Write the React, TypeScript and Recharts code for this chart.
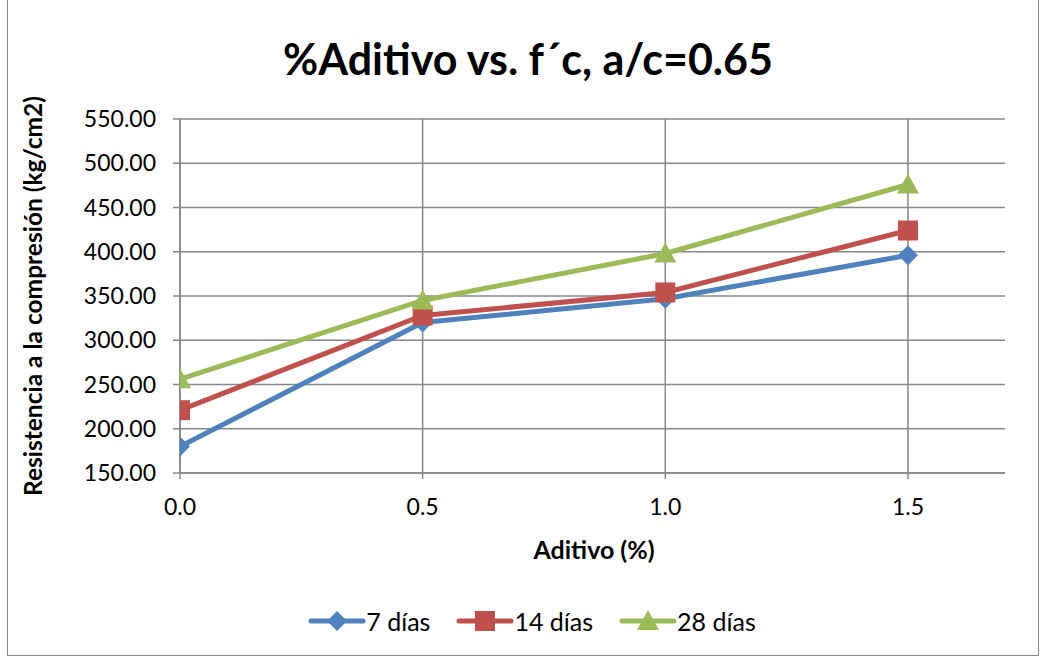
import React from 'react';
import { LineChart, Line, XAxis, YAxis, CartesianGrid, Label } from 'recharts';

const aditivo = [0.0, 0.5, 1.0, 1.5];
const dias7 = [180, 320, 347, 396];
const dias14 = [221, 328, 354, 424];
const dias28 = [256, 345, 398, 476];
const yTicks = [150, 200, 250, 300, 350, 400, 450, 500, 550];
const xTicks = [0, 0.5, 1.0, 1.5];

const data = aditivo.map((x, i) => ({ x, d7: dias7[i], d14: dias14[i], d28: dias28[i] }));

const FONT = 'Lato, "Open Sans", sans-serif';
const BLUE = '#4F81BD';
const RED = '#C0504D';
const GREEN = '#9BBB59';

const Diamond = (props: any) => {
  const { cx, cy } = props;
  if (cx == null || cy == null) return null;
  const r = 10;
  return <path d={`M${cx},${cy - r}L${cx + r},${cy}L${cx},${cy + r}L${cx - r},${cy}Z`} fill={BLUE} />;
};
const Square = (props: any) => {
  const { cx, cy } = props;
  if (cx == null || cy == null) return null;
  return <rect x={cx - 10} y={cy - 10} width={20} height={20} fill={RED} />;
};
const Triangle = (props: any) => {
  const { cx, cy } = props;
  if (cx == null || cy == null) return null;
  return <path d={`M${cx},${cy - 11}L${cx + 11},${cy + 9}L${cx - 11},${cy + 9}Z`} fill={GREEN} />;
};

const legendItems = [
  { name: '7 días', color: BLUE, shape: 'diamond' },
  { name: '14 días', color: RED, shape: 'square' },
  { name: '28 días', color: GREEN, shape: 'triangle' }
];

// legend drawn by hand, Excel style
const ChartLegend = () => (
  <div
    style={{
      position: 'absolute',
      left: 0,
      top: 608,
      width: 1064,
      display: 'flex',
      justifyContent: 'center',
      gap: 26,
      fontFamily: FONT,
      fontSize: 25,
      lineHeight: '26px',
      color: '#000'
    }}
  >
    {legendItems.map(item => (
      <div key={item.name} style={{ display: 'flex', alignItems: 'center' }}>
        <svg width={58} height={24}>
          <line x1={3} y1={12} x2={55} y2={12} stroke={item.color} strokeWidth={5} strokeLinecap="round" />
          {item.shape === 'diamond' && <path d="M29,2L39,12L29,22L19,12Z" fill={item.color} />}
          {item.shape === 'square' && <rect x={19} y={2} width={20} height={20} fill={item.color} />}
          {item.shape === 'triangle' && <path d="M29,1L40,21L18,21Z" fill={item.color} />}
        </svg>
        <span>{item.name}</span>
      </div>
    ))}
  </div>
);

export default function App() {
  return (
    <div style={{ position: 'absolute', left: 0, top: 0, width: 1044, height: 658, background: '#fff' }}>
      <div style={{ position: 'absolute', left: 7, top: -1, width: 1032, height: 657, border: '1px solid #868686', boxSizing: 'border-box' }} />
      <div style={{ position: 'absolute', left: 0, top: 33, width: 1056, textAlign: 'center', fontFamily: FONT, fontWeight: 700, fontSize: 43, lineHeight: '52px', color: '#000' }}>
        %Aditivo vs. f´c, a/c=0.65
      </div>
      <div style={{ position: 'absolute', left: 0, top: 0 }}>
        <LineChart width={1044} height={658} data={data} margin={{ top: 119, right: 39, bottom: 155, left: 80 }}>
          <CartesianGrid stroke="#878787" strokeWidth={1.5} horizontalValues={yTicks} verticalValues={xTicks} />
          <XAxis
            dataKey="x"
            type="number"
            domain={[0, 1.7]}
            ticks={xTicks}
            tickFormatter={(v: number) => v.toFixed(1)}
            allowDataOverflow
            stroke="#878787"
            strokeWidth={1.5}
            tickSize={6}
            tickMargin={20}
            tick={{ fill: '#000', fontSize: 23, fontFamily: FONT }}
            height={30}
          >
            <Label
              content={() => (
                <text x={594} y={559} textAnchor="middle" fontFamily={FONT} fontWeight={700} fontSize={25} fill="#000">
                  Aditivo (%)
                </text>
              )}
            />
          </XAxis>
          <YAxis
            type="number"
            domain={[150, 550]}
            ticks={yTicks}
            tickFormatter={(v: number) => v.toFixed(2)}
            stroke="#878787"
            strokeWidth={1.5}
            tickSize={7}
            tickMargin={17}
            tick={{ fill: '#000', fontSize: 23, fontFamily: FONT }}
            width={100}
          >
            <Label
              content={() => (
                <text
                  x={0}
                  y={0}
                  transform="translate(42,296) rotate(-90)"
                  textAnchor="middle"
                  fontFamily={FONT}
                  fontWeight={700}
                  fontSize={24.5}
                  fill="#000"
                >
                  Resistencia a la compresión (kg/cm2)
                </text>
              )}
            />
          </YAxis>
          <Line type="linear" dataKey="d7" name="7 días" stroke={BLUE} strokeWidth={5} dot={<Diamond />} activeDot={false} isAnimationActive={false} />
          <Line type="linear" dataKey="d14" name="14 días" stroke={RED} strokeWidth={5} dot={<Square />} activeDot={false} isAnimationActive={false} />
          <Line type="linear" dataKey="d28" name="28 días" stroke={GREEN} strokeWidth={5} dot={<Triangle />} activeDot={false} isAnimationActive={false} />
        </LineChart>
      </div>
      <ChartLegend />
    </div>
  );
}
